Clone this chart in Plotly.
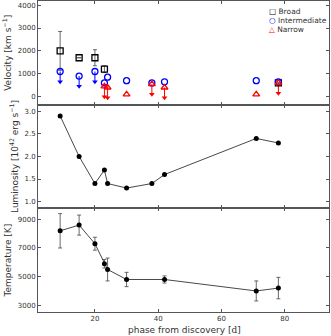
import plotly.graph_objects as go
from plotly.subplots import make_subplots

# ---------------- data ----------------
broad_x = [9, 15, 20, 23, 78]
broad_v = [2000, 1700, 1700, 1200, 600]
broad_err = [850, 0, 350, 150, 0]

inter_x = [9, 15, 20, 23, 24, 30, 38, 42, 71, 78]
inter_v = [1100, 900, 1100, 600, 850, 700, 600, 650, 700, 650]
inter_lim = [True, True, True, False, False, False, False, False, False, False]

narrow_x = [23, 24, 30, 38, 42, 71, 78]
narrow_v = [450, 400, 100, 550, 400, 100, 600]
narrow_lim = [True, True, False, True, True, False, True]

lum_x = [9, 15, 20, 23, 24, 30, 38, 42, 71, 78]
lum = [2.9, 2.0, 1.4, 1.7, 1.4, 1.3, 1.4, 1.6, 2.4, 2.3]

temp_x = [9, 15, 20, 23, 24, 30, 42, 71, 78]
temp = [8200, 8600, 7300, 5900, 5500, 4800, 4800, 4000, 4200]
temp_err = [1200, 700, 450, 300, 800, 500, 250, 700, 750]

legend_names = ["Broad", "Intermediate", "Narrow"]
legend_glyphs = ["□", "○", "△"]
legend_colors = ["black", "#0000ff", "#ff0000"]

ARROW = 450  # upper-limit arrow length (km/s)

AX = "#555555"
TXT = "#333333"

fig = make_subplots(rows=3, cols=1, shared_xaxes=True, vertical_spacing=0)


def add_limits(xs, vs, lims, color, row):
    lx = [x for x, l in zip(xs, lims) if l]
    lv = [v for v, l in zip(vs, lims) if l]
    fig.add_trace(go.Scatter(
        x=lx, y=lv, mode="markers", marker=dict(size=0.1, color=color),
        error_y=dict(type="data", symmetric=False, array=[0] * len(lx),
                     arrayminus=[ARROW] * len(lx), color=color, thickness=1, width=0),
        showlegend=False, hoverinfo="skip"), row=row, col=1)
    fig.add_trace(go.Scatter(
        x=lx, y=[v - ARROW for v in lv], mode="markers",
        marker=dict(symbol="triangle-down", size=5, color=color),
        showlegend=False, hoverinfo="skip"), row=row, col=1)


add_limits(inter_x, inter_v, inter_lim, "#0000ff", 1)
add_limits(narrow_x, narrow_v, narrow_lim, "#ff0000", 1)

fig.add_trace(go.Scatter(
    x=broad_x, y=broad_v, mode="markers", name="Broad", showlegend=False,
    marker=dict(symbol="square-open", size=6, color="black", line=dict(width=1.3)),
    error_y=dict(type="data", array=broad_err, color="#444444", thickness=0.8, width=2)),
    row=1, col=1)
fig.add_trace(go.Scatter(
    x=inter_x, y=inter_v, mode="markers", name="Intermediate", showlegend=False,
    marker=dict(symbol="circle-open", size=6, color="#0000ff", line=dict(width=1.3))),
    row=1, col=1)
fig.add_trace(go.Scatter(
    x=narrow_x, y=narrow_v, mode="markers", name="Narrow", showlegend=False,
    marker=dict(symbol="triangle-up-open", size=6, color="#ff0000", line=dict(width=1.3))),
    row=1, col=1)

fig.add_trace(go.Scatter(
    x=lum_x, y=lum, mode="lines+markers", showlegend=False,
    line=dict(color="#333333", width=0.9),
    marker=dict(symbol="circle", size=5, color="black")), row=2, col=1)

fig.add_trace(go.Scatter(
    x=temp_x, y=temp, mode="lines+markers", showlegend=False,
    line=dict(color="#333333", width=0.9),
    marker=dict(symbol="circle", size=5, color="black"),
    error_y=dict(type="data", array=temp_err, color="#444444", thickness=0.8, width=2)),
    row=3, col=1)

common_x = dict(range=[2, 94], tickvals=[20, 40, 60, 80], ticks="inside", ticklen=3,
                tickcolor=AX, showline=True, linecolor=AX, linewidth=1, mirror="allticks",
                showgrid=False, zeroline=False, tickfont=dict(size=7, color=TXT),
                automargin=False)
for r in (1, 2, 3):
    fig.update_xaxes(common_x, row=r, col=1)
fig.update_xaxes(showticklabels=False, row=1, col=1)
fig.update_xaxes(showticklabels=False, row=2, col=1)

common_y = dict(ticks="inside", ticklen=3, tickcolor=AX, showline=True, linecolor=AX,
                linewidth=1, mirror="allticks", showgrid=False, zeroline=False,
                tickfont=dict(size=7, color=TXT), automargin=False)
fig.update_yaxes(common_y, range=[-350, 4180], tickvals=[0, 1000, 2000, 3000, 4000],
                 title=dict(text="Velocity [km s<sup>−1</sup>]", font=dict(size=9, color=TXT), standoff=4),
                 row=1, col=1)
fig.update_yaxes(common_y, range=[0.85, 3.15], tickvals=[1.0, 1.5, 2.0, 2.5, 3.0],
                 tickformat=".1f",
                 title=dict(text="Luminosity [10<sup>42</sup> erg s<sup>−1</sup>]",
                            font=dict(size=9, color=TXT), standoff=4),
                 row=2, col=1)
fig.update_yaxes(common_y, range=[2530, 9770], tickvals=[3000, 5000, 7000, 9000],
                 title=dict(text="Temperature [K]", font=dict(size=9, color=TXT), standoff=4),
                 row=3, col=1)

# x-axis title
fig.add_annotation(text="phase from discovery [<span style='font-family:DejaVu Serif'>d</span>]",
                   xref="paper", yref="paper", x=0.505, y=-0.058, xanchor="center",
                   yanchor="middle", showarrow=False, font=dict(size=9, color=TXT))

# legend (compact, matplotlib style)
for i, (nm, gl, col) in enumerate(zip(legend_names, legend_glyphs, legend_colors)):
    fig.add_annotation(
        text=f"<span style='color:{col}'>{gl}</span> {nm}",
        xref="paper", yref="paper", x=0.787, y=0.966 - i * 0.029,
        xanchor="left", yanchor="middle", showarrow=False,
        font=dict(size=7.5, color=TXT))

fig.update_layout(
    width=331, height=336,
    margin=dict(l=38, r=2, t=1, b=24),
    plot_bgcolor="white", paper_bgcolor="white",
    font=dict(family="DejaVu Sans", size=8, color=TXT),
    showlegend=False,
)

fig.write_html("out.html", config={"displayModeBar": False},
               post_script="document.body.style.margin='0';document.body.style.overflow='hidden';")
